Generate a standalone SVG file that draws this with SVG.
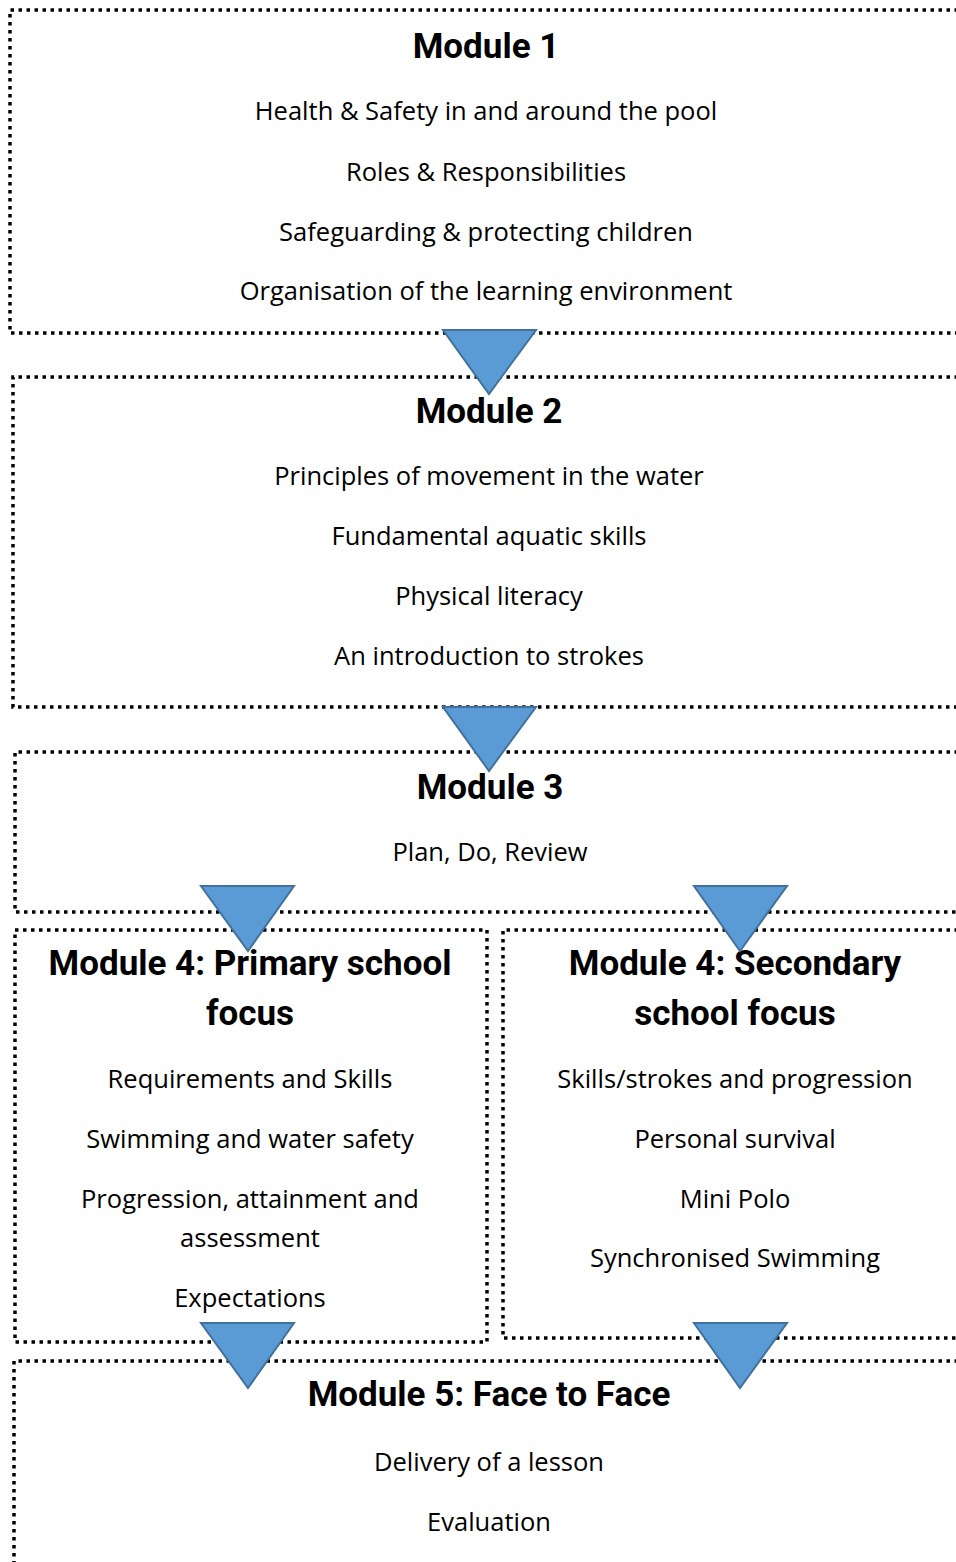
<svg xmlns="http://www.w3.org/2000/svg" width="956" height="1562" viewBox="0 0 956 1562">
<style>
.box{fill:none;stroke:#000;stroke-width:3.5;stroke-dasharray:3.5 4.5}
.t{font-family:Roboto,"Liberation Sans",sans-serif;font-weight:bold;font-size:35px;fill:#000;text-anchor:middle}
.b{font-family:"Open Sans","Noto Sans",sans-serif;font-size:25.5px;fill:#000;text-anchor:middle}
.tri{fill:#5B9BD5;stroke:#41719C;stroke-width:2;stroke-linejoin:miter}
</style>
<rect width="956" height="1562" fill="#fff"/>
<g id="module1">
<path class="box" d="M958 10H10V333H958"/>
<text class="t" x="486" y="58">Module 1</text>
<text class="b" x="486" y="120">Health &amp; Safety in and around the pool</text>
<text class="b" x="486" y="181">Roles &amp; Responsibilities</text>
<text class="b" x="486" y="241">Safeguarding &amp; protecting children</text>
<text class="b" x="486" y="300">Organisation of the learning environment</text>
</g>
<g id="module2">
<path class="box" d="M958 377H13V707H958"/>
<text class="t" x="489" y="423">Module 2</text>
<text class="b" x="489" y="485">Principles of movement in the water</text>
<text class="b" x="489" y="545">Fundamental aquatic skills</text>
<text class="b" x="489" y="605">Physical literacy</text>
<text class="b" x="489" y="665">An introduction to strokes</text>
</g>
<g id="module3">
<path class="box" d="M958 752H15V912H958"/>
<text class="t" x="490" y="799">Module 3</text>
<text class="b" x="490" y="861">Plan, Do, Review</text>
</g>
<g id="module4-primary">
<rect class="box" x="15" y="930" width="472" height="412"/>
<text class="t" x="250" y="975">Module 4: Primary school</text>
<text class="t" x="250" y="1025">focus</text>
<text class="b" x="250" y="1088">Requirements and Skills</text>
<text class="b" x="250" y="1148">Swimming and water safety</text>
<text class="b" x="250" y="1208">Progression, attainment and</text>
<text class="b" x="250" y="1247">assessment</text>
<text class="b" x="250" y="1307">Expectations</text>
</g>
<g id="module4-secondary">
<path class="box" d="M958 930H503V1338H958"/>
<text class="t" x="735" y="975">Module 4: Secondary</text>
<text class="t" x="735" y="1025">school focus</text>
<text class="b" x="735" y="1088">Skills/strokes and progression</text>
<text class="b" x="735" y="1148">Personal survival</text>
<text class="b" x="735" y="1208">Mini Polo</text>
<text class="b" x="735" y="1267">Synchronised Swimming</text>
</g>
<g id="module5">
<path class="box" d="M958 1361H14V1564"/>
<text class="t" x="489" y="1406">Module 5: Face to Face</text>
<text class="b" x="489" y="1471">Delivery of a lesson</text>
<text class="b" x="489" y="1531">Evaluation</text>
</g>
<g id="connectors">
<polygon class="tri" points="443,330 536,330 489,394"/>
<polygon class="tri" points="443,707 536,707 489,771"/>
<polygon class="tri" points="201,886 294,886 248,951"/>
<polygon class="tri" points="694,886 787,886 740,951"/>
<polygon class="tri" points="201,1323 294,1323 248,1388"/>
<polygon class="tri" points="694,1323 787,1323 740,1388"/>
</g>
</svg>
